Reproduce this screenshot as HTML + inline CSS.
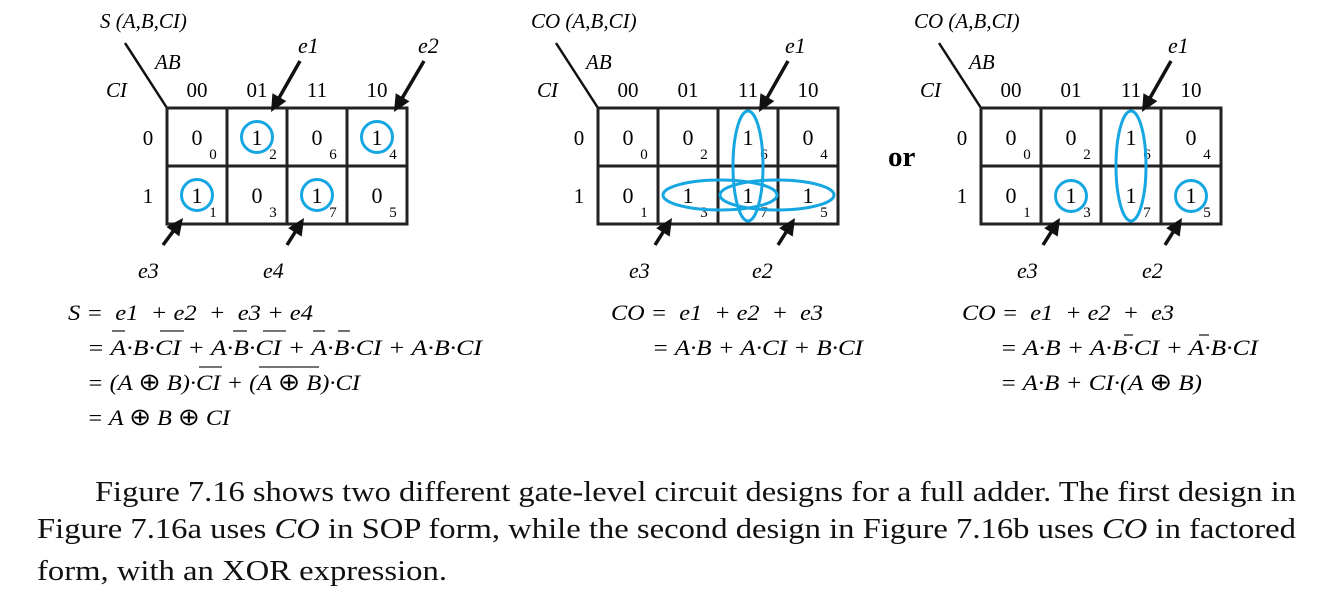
<!DOCTYPE html>
<html><head><meta charset="utf-8"><style>
html,body{margin:0;padding:0;background:#fff;}
svg{display:block;font-family:"Liberation Serif",serif;}
.it{font-style:italic}
.up{font-style:normal;font-size:24px}
</style></head><body>
<svg id="fig" width="1324" height="606" viewBox="0 0 1324 606" xmlns="http://www.w3.org/2000/svg">
<g id="maps"></g>
<text x="888" y="166" font-size="29" font-weight="bold">or</text>

<g font-size="22" class="it">
<text x="68" y="320" textLength="245" lengthAdjust="spacingAndGlyphs">S =&#160; e1&#160; + e2&#160; +&#160; e3 + e4</text>
<text x="87" y="355" textLength="395" lengthAdjust="spacingAndGlyphs">= A·B·CI + A·B·CI + A·B·CI + A·B·CI</text>
<text x="87" y="390" textLength="273" lengthAdjust="spacingAndGlyphs">= (A <tspan class="up">⊕</tspan> B)·CI + (A <tspan class="up">⊕</tspan> B)·CI</text>
<text x="87" y="425" textLength="143" lengthAdjust="spacingAndGlyphs">= A <tspan class="up">⊕</tspan> B <tspan class="up">⊕</tspan> CI</text>
<g stroke="#222" stroke-width="1.3">
<line x1="112" y1="331" x2="125" y2="331"/><line x1="160" y1="331" x2="184" y2="331"/>
<line x1="233" y1="331" x2="247" y2="331"/><line x1="263" y1="331" x2="286" y2="331"/>
<line x1="313" y1="331" x2="325" y2="331"/><line x1="338" y1="331" x2="350" y2="331"/>
<line x1="199" y1="367" x2="222" y2="367"/><line x1="259" y1="367" x2="319" y2="367"/>
</g></g>
<g font-size="22" class="it">
<text x="611" y="320" textLength="212" lengthAdjust="spacingAndGlyphs">CO =&#160; e1&#160; + e2&#160; +&#160; e3</text>
<text x="652" y="355" textLength="211" lengthAdjust="spacingAndGlyphs">= A·B + A·CI + B·CI</text>
</g>
<g font-size="22" class="it">
<text x="962" y="320" textLength="212" lengthAdjust="spacingAndGlyphs">CO =&#160; e1&#160; + e2&#160; +&#160; e3</text>
<text x="1000" y="355" textLength="258" lengthAdjust="spacingAndGlyphs">= A·B + A·B·CI + A·B·CI</text>
<text x="1000" y="390" textLength="202" lengthAdjust="spacingAndGlyphs">= A·B + CI·(A <tspan class="up">⊕</tspan> B)</text>
<g stroke="#222" stroke-width="1.3"><line x1="1124" y1="335" x2="1133" y2="335"/><line x1="1199" y1="335" x2="1209" y2="335"/></g>
</g>
<g font-size="28.5" fill="#111">
<text x="95" y="501" textLength="1201" lengthAdjust="spacingAndGlyphs">Figure 7.16 shows two different gate-level circuit designs for a full adder. The first design in</text>
<text x="37" y="538" textLength="1259" lengthAdjust="spacingAndGlyphs">Figure 7.16a uses <tspan class="it">CO</tspan> in SOP form, while the second design in Figure 7.16b uses <tspan class="it">CO</tspan> in factored</text>
<text x="37" y="580" textLength="410" lengthAdjust="spacingAndGlyphs">form, with an XOR expression.</text>
</g>
</svg>
<script>
const colLabels=["00","01","11","10"];
const sVals=[[0,1,0,1],[1,0,1,0]];
const coVals=[[0,0,1,0],[0,1,1,1]];
const minterms=[[0,2,6,4],[1,3,7,5]];
const NS="http://www.w3.org/2000/svg";
const root=document.getElementById('maps');
const BLUE="#16a6e2";
function mk(tag,attrs,parent){const e=document.createElementNS(NS,tag);for(const k in attrs)e.setAttribute(k,attrs[k]);(parent||root).appendChild(e);return e;}
function arrow(g,x1,y1,x2,y2){
  const dx=x2-x1,dy=y2-y1,L=Math.hypot(dx,dy),ux=dx/L,uy=dy/L;
  const bx=x2-ux*17,by=y2-uy*17;
  const l=mk('line',{x1:x1,y1:y1,x2:bx+ux*2,y2:by+uy*2,stroke:'#111','stroke-width':3.5},g);
  
  
  const p=mk('polygon',{points:`${x2},${y2} ${bx-uy*8},${by+ux*8} ${bx+uy*8},${by-ux*8}`,fill:'#111'},g);
  
  
}
function kmap(ox,title,vals,name){
  const g=mk('g',{});
  
  
  const x0=ox,y0=108,cw=60,ch=58;
  const t=mk('text',{x:ox-67,y:28,'font-size':21,class:'it'},g);t.textContent=title;
  
  
  mk('line',{x1:ox-42,y1:43,x2:x0,y2:y0,stroke:'#111','stroke-width':2.5},g);
  const ab=mk('text',{x:ox-12,y:69,'font-size':21,class:'it'},g);ab.textContent='AB';
  
  
  const ci=mk('text',{x:ox-61,y:97,'font-size':21,class:'it'},g);ci.textContent='CI';
  
  
  colLabels.forEach((c,i)=>{const e=mk('text',{x:x0+cw*i+30,y:97,'font-size':21,'text-anchor':'middle'},g);e.textContent=c;
    
    });
  ['0','1'].forEach((r,j)=>{const e=mk('text',{x:ox-19,y:y0+ch*j+37,'font-size':21,'text-anchor':'middle'},g);e.textContent=r;
    
    });
  for(let j=0;j<2;j++)for(let i=0;i<4;i++){
    const r=mk('rect',{x:x0+cw*i,y:y0+ch*j,width:cw,height:ch,fill:'none',stroke:'#222','stroke-width':3},g);
    
    
    const v=mk('text',{x:x0+cw*i+30,y:y0+ch*j+37,'font-size':22,'text-anchor':'middle'},g);v.textContent=vals[j][i];
    
    
    const s=mk('text',{x:x0+cw*i+46,y:y0+ch*j+51,'font-size':15,'text-anchor':'middle'},g);s.textContent=minterms[j][i];
    
    
  }
  return g;
}
const g1=kmap(167,'S (A,B,CI)',sVals,'sum-kmap');
sVals.forEach((row,j)=>row.forEach((v,i)=>{if(v===1){
  const c=mk('circle',{cx:167+60*i+30,cy:108+58*j+29,r:15.5,fill:'none',stroke:BLUE,'stroke-width':3},g1);
  
  }}));
arrow(g1,300,61,271,112);arrow(g1,424,61,394,112);arrow(g1,163,245,183,218);arrow(g1,287,245,304,218);
[['e1',298,53],['e2',418,53],['e3',138,278],['e4',263,278]].forEach(a=>{const e=mk('text',{x:a[1],y:a[2],'font-size':22,class:'it'},g1);e.textContent=a[0];
  
  });
const g2=kmap(598,'CO (A,B,CI)',coVals,'carry-sop-kmap');
[[748,166,15,55],[720,195,57,15],[777,195,57,15]].forEach(e=>{const el=mk('ellipse',{cx:e[0],cy:e[1],rx:e[2],ry:e[3],fill:'none',stroke:BLUE,'stroke-width':3},g2);
  
  });
arrow(g2,788,61,759,112);arrow(g2,655,245,672,218);arrow(g2,778,245,795,218);
[['e1',785,53],['e3',629,278],['e2',752,278]].forEach(a=>{const e=mk('text',{x:a[1],y:a[2],'font-size':22,class:'it'},g2);e.textContent=a[0];
  
  });
const g3=kmap(981,'CO (A,B,CI)',coVals,'carry-factored-kmap');
{const el=mk('ellipse',{cx:1131,cy:166,rx:15,ry:55,fill:'none',stroke:BLUE,'stroke-width':3},g3);
 
 }
[[1071,196],[1191,196]].forEach(c=>{const el=mk('circle',{cx:c[0],cy:c[1],r:15.5,fill:'none',stroke:BLUE,'stroke-width':3},g3);
  
  });
arrow(g3,1171,61,1142,112);arrow(g3,1043,245,1060,218);arrow(g3,1165,245,1182,218);
[['e1',1168,53],['e3',1017,278],['e2',1142,278]].forEach(a=>{const e=mk('text',{x:a[1],y:a[2],'font-size':22,class:'it'},g3);e.textContent=a[0];
  
  });
</script>
</body></html>
